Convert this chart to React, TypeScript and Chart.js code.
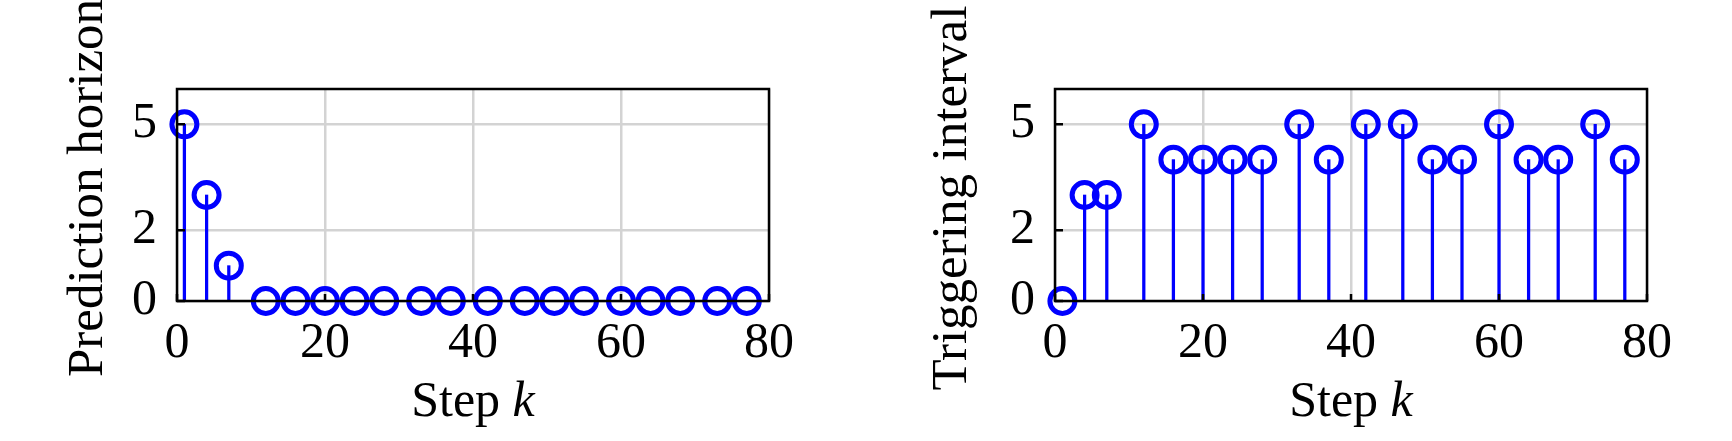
import React, { useEffect, useRef } from 'react';
import { Chart, registerables } from 'chart.js';

Chart.register(...registerables);

// ---- data ----
const steps = [1, 4, 7, 12, 16, 20, 24, 28, 33, 37, 42, 47, 51, 55, 60, 64, 68, 73, 77];
const predictionHorizon = [5, 3, 1, 0, 0, 0, 0, 0, 0, 0, 0, 0, 0, 0, 0, 0, 0, 0, 0];
const triggeringInterval = [0, 3, 3, 5, 4, 4, 4, 4, 5, 4, 5, 5, 4, 4, 5, 4, 4, 5, 4];
const xTicks = [0, 20, 40, 60, 80];
const yTicks = [0, 2, 5];
const xRange = [0, 80];
const yRange = [0, 6];
const xTitleMain = 'Step ';
const xTitleItalic = 'k';
const leftTitle = 'Prediction horizon';
const rightTitle = 'Triggering interval';

const FONT = '"Liberation Serif", "Times New Roman", Times, serif';
const BLUE = '#0000ff';

const framePlugin = {
  id: 'matlabFrame',
  afterDatasetsDraw(chart: any, _args: any, opts: any) {
    const { ctx, chartArea } = chart;
    const { left, right, top, bottom } = chartArea;
    const x = chart.scales.x;
    const y = chart.scales.y;
    ctx.save();
    ctx.strokeStyle = '#000';
    ctx.lineWidth = 2.5;
    ctx.beginPath();
    for (const v of xTicks) {
      const px = x.getPixelForValue(v);
      ctx.moveTo(px, bottom);
      ctx.lineTo(px, bottom - 7);
    }
    for (const v of yTicks) {
      const py = y.getPixelForValue(v);
      ctx.moveTo(left, py);
      ctx.lineTo(left + 8, py);
    }
    ctx.stroke();
    ctx.strokeRect(left, top, right - left, bottom - top);

    ctx.fillStyle = '#000';
    // x-axis title "Step k" with italic k
    const f1 = `50px ${FONT}`;
    const f2 = `italic 50px ${FONT}`;
    ctx.textBaseline = 'alphabetic';
    ctx.textAlign = 'left';
    ctx.font = f1;
    const w1 = ctx.measureText(xTitleMain).width;
    ctx.font = f2;
    const w2 = ctx.measureText(xTitleItalic).width;
    const sx = (left + right) / 2 - (w1 + w2) / 2;
    const baseY = 416;
    ctx.font = f1;
    ctx.fillText(xTitleMain, sx, baseY);
    ctx.font = f2;
    ctx.fillText(xTitleItalic, sx + w1, baseY);

    // y-axis title, rotated
    ctx.save();
    ctx.font = `51px ${FONT}`;
    ctx.textAlign = 'center';
    ctx.textBaseline = 'alphabetic';
    ctx.translate(opts.titleX, opts.titleY);
    ctx.rotate(-Math.PI / 2);
    ctx.fillText(opts.text, 0, 0);
    ctx.restore();
    ctx.restore();
  },
};

function StemChart(props: {
  values: number[];
  yTitle: string;
  offsetLeft: number;
  axisWidth: number;
  padRight: number;
  titleX: number;
  titleY: number;
}) {
  const ref = useRef<HTMLCanvasElement>(null);
  useEffect(() => {
    const pts = steps.map((s, i) => ({ x: s, y: props.values[i] }));
    const chart = new Chart(ref.current as HTMLCanvasElement, {
      type: 'scatter',
      data: {
        datasets: [
          {
            type: 'scatter',
            data: pts,
            order: 0,
            pointStyle: 'circle',
            pointRadius: 12.5,
            pointHoverRadius: 12.5,
            pointBorderWidth: 5,
            pointBorderColor: BLUE,
            pointBackgroundColor: 'rgba(0,0,0,0)',
            borderColor: BLUE,
            backgroundColor: 'rgba(0,0,0,0)',
            clip: false as any,
          } as any,
          {
            type: 'bar',
            data: pts,
            order: 1,
            backgroundColor: BLUE,
            borderWidth: 0,
            barThickness: 2.6,
          } as any,
        ],
      },
      options: {
        responsive: false,
        animation: false,
        events: [],
        layout: { padding: { left: 0, top: 89, right: props.padRight, bottom: 0 } },
        plugins: {
          legend: { display: false },
          tooltip: { enabled: false },
          matlabFrame: { text: props.yTitle, titleX: props.titleX, titleY: props.titleY },
        },
        scales: {
          x: {
            type: 'linear',
            min: xRange[0],
            max: xRange[1],
            offset: false,
            afterBuildTicks: (s: any) => {
              s.ticks = xTicks.map((v) => ({ value: v }));
            },
            afterFit: (s: any) => {
              s.height = 140;
            },
            border: { display: false },
            grid: { color: '#d3d3d3', lineWidth: 2.5, drawTicks: false, offset: false },
            ticks: {
              autoSkip: false,
              maxRotation: 0,
              padding: 13,
              color: '#000',
              font: { family: FONT, size: 50 },
            },
          },
          y: {
            type: 'linear',
            min: yRange[0],
            max: yRange[1],
            afterBuildTicks: (s: any) => {
              s.ticks = yTicks.map((v) => ({ value: v }));
            },
            afterFit: (s: any) => {
              s.width = props.axisWidth;
            },
            border: { display: false },
            grid: { color: '#d3d3d3', lineWidth: 2.5, drawTicks: false },
            ticks: {
              padding: 20,
              color: '#000',
              font: { family: FONT, size: 50 },
            },
            title: { display: false },
          },
        },
      },
      plugins: [framePlugin],
    } as any);
    return () => chart.destroy();
  }, []);
  return (
    <canvas
      ref={ref}
      width={866}
      height={441}
      style={{ position: 'absolute', left: props.offsetLeft, top: 0, width: 866, height: 441, display: 'block' }}
    />
  );
}

export default function App() {
  return (
    <div style={{ position: 'absolute', left: 0, top: 0, width: 1732, height: 441, background: '#fff', overflow: 'hidden' }}>
      <StemChart values={predictionHorizon} yTitle={leftTitle} offsetLeft={0} axisWidth={177} padRight={97} titleX={102} titleY={188} />
      <StemChart values={triggeringInterval} yTitle={rightTitle} offsetLeft={866} axisWidth={189} padRight={85} titleX={100} titleY={198} />
    </div>
  );
}
